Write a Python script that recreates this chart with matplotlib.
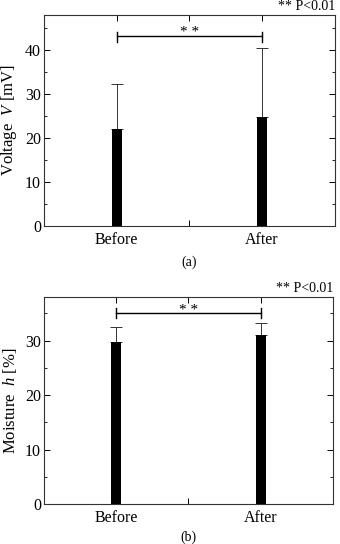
import numpy as np
import matplotlib
matplotlib.use("Agg")
import matplotlib.pyplot as plt
from matplotlib.ticker import MultipleLocator

plt.rcParams['font.family'] = ['Liberation Serif', 'DejaVu Serif']
plt.rcParams['mathtext.fontset'] = 'custom'
plt.rcParams['mathtext.it'] = 'Liberation Serif:italic'
plt.rcParams['mathtext.rm'] = 'Liberation Serif'

groups = ['Before', 'After']
# (a) voltage
volt_mean = [22.0, 24.8]
volt_sd = [10.2, 15.6]
# (b) moisture
moist_mean = [29.7, 31.1]
moist_sd = [2.8, 2.1]

fig = plt.figure(figsize=(3.4, 5.44), dpi=100)
ax1 = fig.add_axes([0.129, 0.5846, 0.856, 0.3878])
ax2 = fig.add_axes([0.129, 0.073, 0.850, 0.381])

def panel(ax, mean, sd, ymax, ylabel, brk, star_y, letter, letter_y):
    x = np.arange(len(groups))
    ax.bar(x, mean, width=0.07, color='black', zorder=3)
    ax.errorbar(x, mean, yerr=[np.zeros(len(sd)), sd], fmt='none',
                ecolor='#333333', elinewidth=0.7, capsize=4, capthick=0.7, zorder=2)
    # significance bracket
    y, lo, hi = brk
    ax.plot([0, 1], [y, y], color='black', lw=1.0)
    ax.plot([0, 0], [lo, hi], color='black', lw=1.0)
    ax.plot([1, 1], [lo, hi], color='black', lw=1.0)
    ax.text(0.5, star_y, '* *', ha='center', va='center', fontsize=11)
    ax.set_xlim(-0.5, 1.5)
    ax.set_ylim(0, ymax)
    ax.set_xticks([0, 0.5, 1])
    ax.set_xticklabels(['Before', '', 'After'], fontsize=11.5)
    ax.yaxis.set_major_locator(MultipleLocator(10))
    ax.yaxis.set_minor_locator(MultipleLocator(5))
    ax.tick_params(axis='both', direction='in', top=True, right=True,
                   length=4, width=0.7, labelsize=11.5)
    ax.tick_params(axis='x', pad=4)
    ax.tick_params(axis='y', pad=2)
    ax.tick_params(axis='y', which='minor', direction='in', right=True, length=2.5, width=0.6)
    for s in ax.spines.values():
        s.set_linewidth(0.8)
        s.set_color('#333333')
    ax.set_ylabel(ylabel, fontsize=12, labelpad=0)
    ax.yaxis.set_label_coords(-0.086, 0.5)
    ax.text(1.0, 1.01, '** P<0.01', transform=ax.transAxes, ha='right', va='bottom', fontsize=10)
    fig.text(0.555, letter_y, letter, ha='center', va='center', fontsize=10)

panel(ax1, volt_mean, volt_sd, 48, r'Voltage  $V$ [mV]', (43.2, 41.8, 44.1), 44.1,
      '(a)', 1 - 262 / 544)
panel(ax2, moist_mean, moist_sd, 38, r'Moisture  $h$ [%]', (35.1, 34.2, 36.0), 35.6,
      '(b)', 1 - 537 / 544)

fig.savefig('out.png', dpi=100)
